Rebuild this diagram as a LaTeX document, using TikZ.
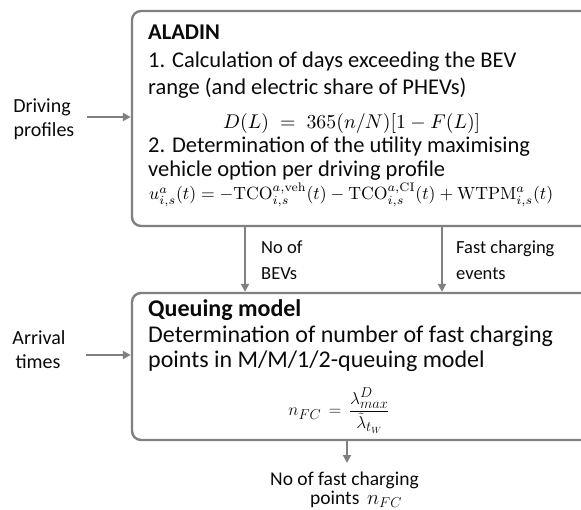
\documentclass[tikz,border=0pt]{standalone}
\usepackage[no-math]{fontspec}
\setmainfont{Carlito}
\usepackage{graphicx}
\usetikzlibrary{arrows.meta}
\definecolor{linegray}{RGB}{128,128,128}
\definecolor{txt}{RGB}{10,10,10}
\tikzset{
  box/.style={draw=linegray, line width=2.4pt, rounded corners=9pt, rectangle, inner sep=0pt},
  arr/.style={draw=linegray, line width=2pt, -{Triangle[length=8pt,width=8pt]}},
  lbl/.style={inner sep=0pt, anchor=base west, text=txt, font=\fontsize{22.5}{26}\selectfont},
  qlbl/.style={inner sep=0pt, anchor=base west, text=txt, font=\fontsize{24}{26}\selectfont},
  mlbl/.style={inner sep=0pt, anchor=base west, text=txt, font=\fontsize{18.5}{22}\selectfont},
  olbl/.style={inner sep=0pt, anchor=base west, text=txt, font=\fontsize{19.5}{22}\selectfont},
  slbl/.style={inner sep=0pt, anchor=base, text=txt, font=\fontsize{20}{24}\selectfont},
}
\begin{document}
\begin{tikzpicture}[x=1pt,y=-1pt]
\useasboundingbox (0,0) rectangle (581,510);
\clip (0,0) rectangle (581,510);
% boxes
\node[box, minimum width=464pt, minimum height=215pt] (box1) at (364,118.5) {};
\node[box, minimum width=464pt, minimum height=147pt] (box2) at (364,366.5) {};
% box 1 text
\node[lbl, font=\fontsize{22.5}{26}\selectfont\bfseries] (t1) at (148,40) {ALADIN};
\node[lbl] (t2) at (148,68) {1. Calculation of days exceeding the BEV};
\node[lbl] (t3) at (148,95) {range (and electric share of PHEVs)};
\node[inner sep=0pt, anchor=base west] (f1) at (223,129) {\resizebox{257pt}{!}{$D(L)\;=\;365(n/N)[1-F(L)]$}};
\node[lbl] (t4) at (148,153) {2. Determination of the utility maximising};
\node[lbl] (t5) at (148,177) {vehicle option per driving profile};
\node[inner sep=0pt, anchor=base west] (f2) at (149,200) {\resizebox{404pt}{!}{$u^a_{i,s}(t)=-\mathrm{TCO}^{a,\mathrm{veh}}_{i,s}(t)-\mathrm{TCO}^{a,\mathrm{CI}}_{i,s}(t)+\mathrm{WTPM}^a_{i,s}(t)$}};
% box 2 text
\node[qlbl, font=\fontsize{24}{26}\selectfont\bfseries] (q1) at (148,317) {Queuing model};
\node[qlbl] (q2) at (148,343) {Determination of number of fast charging};
\node[qlbl] (q3) at (148,368) {points in M/M/1/2-queuing model};
\node[inner sep=0pt, text=txt] (f3) at (339,411) {\fontsize{19}{22}\selectfont$\displaystyle n_{FC}\,=\,\frac{\lambda^{D}_{max}}{\tilde{\lambda}_{t_W}}$};
% side labels
\node[slbl] (d1) at (42,113) {Driving};
\node[slbl] (d2) at (44,137) {profiles};
\node[slbl] (a1) at (39,345) {Arrival};
\node[slbl] (a2) at (38,369) {times};
% middle labels
\node[mlbl] (m1) at (261,254) {No of};
\node[mlbl] (m2) at (261,280) {BEVs};
\node[mlbl] (m3) at (456,254) {Fast charging};
\node[mlbl] (m4) at (456,280) {events};
% output labels
\node[olbl] (o1) at (270,485) {No of fast charging};
\node[olbl] (o2) at (310,504) {points\, $n_{FC}$};
% connectors
\coordinate (drv) at (87,117);
\coordinate (arr) at (86,355);
\coordinate (bevx) at (245,0);
\coordinate (fcx) at (442,0);
\coordinate (outx) at (347,0);
\coordinate (outend) at (347,463);
\draw[arr] (drv) -- (drv -| box1.west);
\draw[arr] (arr) -- (arr -| box2.west);
\draw[arr] (box1.south -| bevx) -- (box2.north -| bevx);
\draw[arr] (box1.south -| fcx) -- (box2.north -| fcx);
\draw[arr] (box2.south -| outx) -- (outend);
\end{tikzpicture}
\end{document}
